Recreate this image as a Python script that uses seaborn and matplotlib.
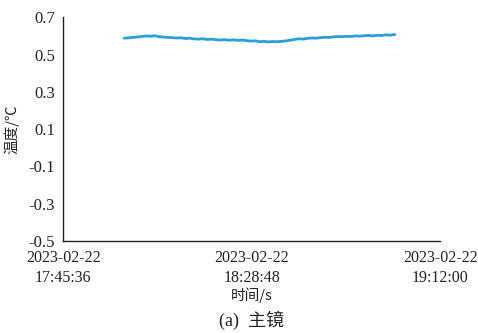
import numpy as np
import pandas as pd
import matplotlib
matplotlib.use("Agg")
import matplotlib.pyplot as plt
import matplotlib.dates as mdates
import seaborn as sns

# Data: one sample per minute starting 17:59:36
start_time = "2023-02-22 17:59:36"
temps = [0.588, 0.590, 0.592, 0.594, 0.597, 0.600, 0.598, 0.601, 0.596, 0.594,
         0.592, 0.591, 0.589, 0.590, 0.586, 0.588, 0.584, 0.583, 0.585, 0.581,
         0.583, 0.580, 0.578, 0.580, 0.577, 0.579, 0.576, 0.578, 0.575, 0.572,
         0.574, 0.569, 0.571, 0.568, 0.570, 0.569, 0.571, 0.573, 0.577, 0.581,
         0.585, 0.583, 0.587, 0.589, 0.588, 0.591, 0.593, 0.592, 0.595, 0.597,
         0.596, 0.598, 0.597, 0.600, 0.599, 0.601, 0.603, 0.600, 0.604, 0.602,
         0.606, 0.604, 0.608]
x_ticks = ["2023-02-22 17:45:36", "2023-02-22 18:28:48", "2023-02-22 19:12:00"]
y_ticks = [-0.5, -0.3, -0.1, 0.1, 0.3, 0.5, 0.7]

times = pd.date_range(start_time, periods=len(temps), freq="1min")
df = pd.DataFrame({"time": times, "temp": temps})

sns.set_style("white")
plt.rcParams["font.family"] = ["Liberation Serif", "Noto Sans CJK SC"]

fig = plt.figure(figsize=(4.78, 3.33), dpi=100)
ax = fig.add_axes([0.132, 0.277, 0.789, 0.671])
sns.lineplot(data=df, x="time", y="temp", ax=ax, color="#2a9fd8", linewidth=2.0)

xt = pd.to_datetime(x_ticks)
ax.set_xlim(xt[0], xt[-1])
ax.set_xticks(xt)
ax.set_xticklabels([t.strftime("%Y-%m-%d\n%H:%M:%S") for t in xt], fontsize=11.5,
                   linespacing=1.3)
ax.set_ylim(-0.5, 0.7)
ax.set_yticks(y_ticks)
ax.set_yticklabels([f"{v:.1f}" for v in y_ticks], fontsize=12)
ax.tick_params(axis="both", direction="in", length=3, width=1, colors="#222222",
               labelcolor="#222222")
ax.tick_params(axis="x", pad=7)
ax.tick_params(axis="y", pad=6)
for s in ["top", "right"]:
    ax.spines[s].set_visible(False)
for s in ["left", "bottom"]:
    ax.spines[s].set_color("#222222")
    ax.spines[s].set_linewidth(1.0)

ax.set_xlabel("时间/s", fontsize=10.5, family=["Noto Sans CJK SC", "Liberation Serif"],
              labelpad=1, color="#222222")
ax.set_ylabel("温度/℃", fontsize=10.5, family=["Noto Sans CJK SC", "Liberation Serif"],
              labelpad=6, color="#222222")
fig.text(0.527, 0.02, "(a)  主镜", fontsize=13, ha="center", color="#222222",
         family=["Liberation Serif", "Noto Sans CJK SC"])

fig.savefig("out.png", dpi=100, facecolor="white")
